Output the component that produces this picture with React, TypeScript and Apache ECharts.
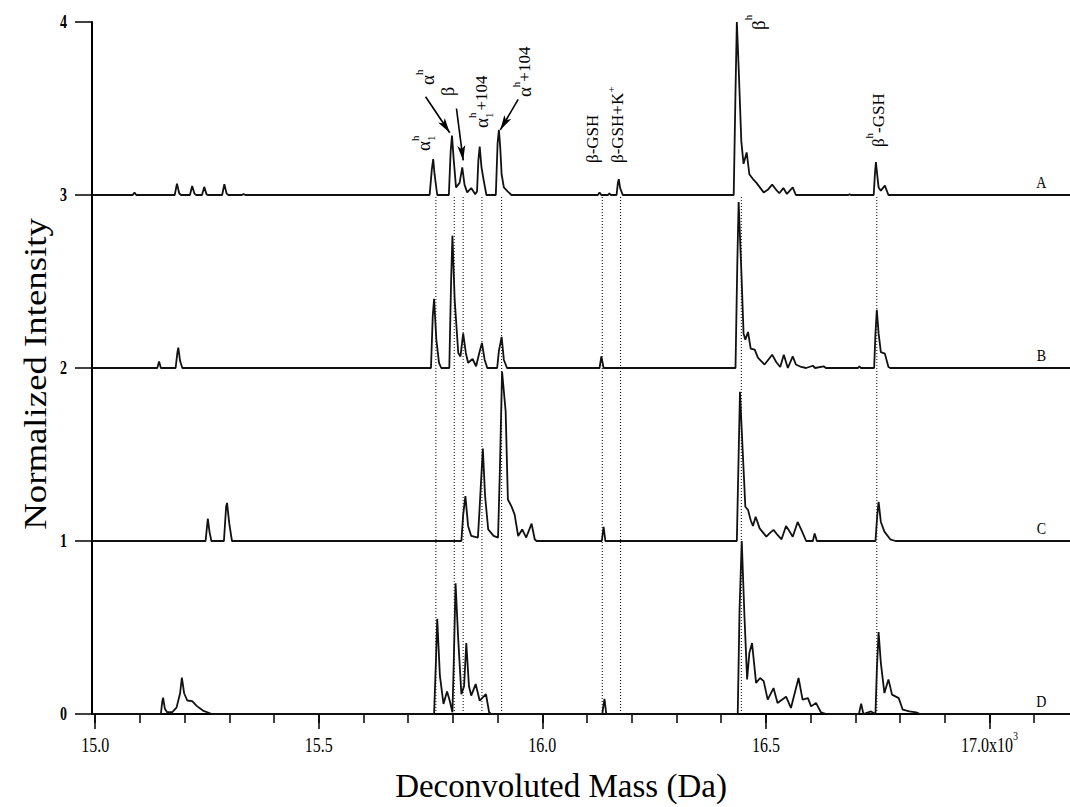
import React, { useEffect, useRef } from 'react';
import * as echarts from 'echarts';

const SERIF = "'Liberation Serif', 'Times New Roman', serif";

// Deconvoluted mass (Da) vs. normalized intensity; each spectrum relative to its own baseline.
const spectrumA: [number, number][] = [
  [14993, 0], [15084, 0], [15088, 0.015], [15092, 0],
  [15178, 0], [15183, 0.066], [15188, 0.01], [15192, 0],
  [15212, 0], [15217, 0.052], [15222, 0.008], [15226, 0],
  [15239, 0], [15244, 0.047], [15249, 0.005], [15252, 0],
  [15284, 0], [15289, 0.062], [15294, 0.008], [15298, 0],
  [15328, 0], [15332, 0.006], [15336, 0],
  [15748, 0], [15753, 0.15], [15756, 0.208], [15759, 0.12], [15765, 0],
  [15791, 0], [15795, 0.25], [15798, 0.343], [15802, 0.2], [15807, 0.044],
  [15815, 0.07], [15821, 0.16], [15826, 0.06], [15832, 0.015], [15841, 0.04], [15850, 0.005],
  [15854, 0.02], [15857, 0.2], [15860, 0.28], [15864, 0.16], [15869, 0.083], [15875, 0],
  [15896, 0], [15900, 0.3], [15903, 0.376], [15906, 0.27], [15909, 0.12], [15914, 0.044], [15923, 0.02], [15931, 0],
  [16124, 0], [16128, 0.015], [16132, 0],
  [16147, 0], [16150, 0.01], [16153, 0],
  [16166, 0], [16169, 0.07], [16171, 0.092], [16174, 0.04], [16180, 0],
  [16428, 0], [16432, 0.6], [16435, 1.0], [16439, 0.74], [16445, 0.31], [16450, 0.18], [16457, 0.246],
  [16463, 0.12], [16471, 0.092], [16478, 0.073], [16495, 0.015], [16504, 0.03], [16514, 0.06], [16523, 0.03],
  [16530, 0.01], [16539, 0.04], [16547, 0.006], [16560, 0.044], [16567, 0],
  [16684, 0], [16687, 0.005], [16690, 0],
  [16741, 0], [16744, 0.13], [16746, 0.19], [16750, 0.09], [16752, 0.044], [16757, 0.025], [16766, 0.054], [16774, 0],
  [17180, 0],
];

const spectrumB: [number, number][] = [
  [14993, 0], [15139, 0], [15143, 0.037], [15147, 0],
  [15180, 0], [15184, 0.09], [15186, 0.118], [15190, 0.04], [15195, 0],
  [15751, 0], [15755, 0.3], [15758, 0.4], [15763, 0.164], [15769, 0.03], [15774, 0],
  [15792, 0], [15796, 0.5], [15799, 0.765], [15804, 0.395], [15812, 0.087], [15817, 0.067], [15823, 0.2],
  [15829, 0.087], [15834, 0.03], [15844, 0.052], [15852, 0.01], [15859, 0.087], [15865, 0.145], [15871, 0.048], [15877, 0],
  [15899, 0], [15903, 0.1], [15909, 0.18], [15914, 0.048], [15921, 0],
  [16128, 0], [16132, 0.067], [16137, 0],
  [16432, 0], [16436, 0.6], [16439, 0.96], [16445, 0.565], [16450, 0.2], [16454, 0.164], [16460, 0.208],
  [16466, 0.112], [16475, 0.106], [16482, 0.06], [16497, 0.02], [16514, 0.077], [16523, 0.035], [16532, 0.006],
  [16540, 0.077], [16549, 0], [16560, 0.067], [16567, 0.02], [16579, 0.006], [16590, 0], [16605, 0.013], [16610, 0],
  [16629, 0.01], [16634, 0],
  [16706, 0], [16709, 0.01], [16712, 0],
  [16742, 0], [16745, 0.2], [16748, 0.337], [16752, 0.2], [16757, 0.092], [16766, 0.083], [16774, 0.006], [16778, 0],
  [17180, 0],
];

const spectrumC: [number, number][] = [
  [14993, 0], [15247, 0], [15252, 0.13], [15256, 0.05], [15260, 0],
  [15288, 0], [15293, 0.2], [15295, 0.22], [15300, 0.1], [15306, 0],
  [15819, 0], [15823, 0.15], [15828, 0.26], [15834, 0.087], [15841, 0.029], [15856, 0.02], [15860, 0.2],
  [15867, 0.534], [15872, 0.26], [15879, 0.067], [15891, 0.03], [15901, 0.02], [15905, 0.4], [15910, 0.98],
  [15918, 0.75], [15923, 0.24], [15931, 0.2], [15938, 0.154], [15946, 0.029], [15955, 0.067], [15964, 0.02],
  [15976, 0.1], [15983, 0.01], [15987, 0],
  [16133, 0], [16137, 0.081], [16141, 0],
  [16435, 0], [16439, 0.5], [16442, 0.863], [16448, 0.526], [16454, 0.198], [16460, 0.18], [16466, 0.12],
  [16471, 0.087], [16477, 0.14], [16486, 0.073], [16501, 0.025], [16508, 0.044], [16517, 0.064], [16526, 0.035],
  [16535, 0.01], [16545, 0.087], [16551, 0.064], [16560, 0.025], [16571, 0.11], [16581, 0.054], [16590, 0],
  [16605, 0], [16609, 0.044], [16614, 0],
  [16745, 0], [16749, 0.15], [16752, 0.227], [16757, 0.11], [16765, 0.054], [16778, 0.01], [16790, 0],
  [17180, 0],
];

const spectrumD: [number, number][] = [
  [14993, 0], [15147, 0], [15150, 0.07], [15152, 0.095], [15156, 0.03], [15161, 0.01], [15172, 0.01],
  [15182, 0.037], [15190, 0.12], [15194, 0.21], [15199, 0.12], [15206, 0.078], [15217, 0.074], [15227, 0.047],
  [15241, 0.02], [15261, 0],
  [15758, 0], [15762, 0.3], [15765, 0.55], [15771, 0.22], [15779, 0.058], [15787, 0.13], [15793, 0.077],
  [15799, 0.01], [15802, 0.3], [15806, 0.755], [15812, 0.43], [15819, 0.115], [15825, 0.16], [15830, 0.41],
  [15836, 0.16], [15841, 0.106], [15851, 0.173], [15860, 0.077], [15874, 0.115], [15881, 0.01], [15885, 0],
  [16134, 0], [16139, 0.087], [16143, 0],
  [16437, 0], [16441, 0.6], [16446, 1.0], [16452, 0.565], [16458, 0.2], [16463, 0.353], [16469, 0.41],
  [16478, 0.18], [16487, 0.208], [16495, 0.19], [16504, 0.083], [16517, 0.15], [16526, 0.064], [16545, 0.1],
  [16556, 0.035], [16573, 0.208], [16582, 0.083], [16594, 0.092], [16601, 0.044], [16612, 0.064], [16623, 0.01],
  [16635, 0],
  [16708, 0], [16713, 0.06], [16718, 0], [16735, 0.015], [16745, 0],
  [16748, 0.25], [16752, 0.474], [16757, 0.295], [16765, 0.121], [16774, 0.2], [16782, 0.112], [16797, 0.092],
  [16806, 0.025], [16821, 0.015], [16836, 0.01], [16845, 0],
  [17180, 0],
];

const spectra = [spectrumA, spectrumB, spectrumC, spectrumD];
const spectrumNames = ['A', 'B', 'C', 'D'];
const spectrumOffsets = [3, 2, 1, 0];

// Assigned species: dotted guides drawn through all four spectra
const guideMasses = [15762, 15803, 15823, 15865, 15909, 16134, 16175, 16445, 16748];

// Arrows from labels to peaks: [from, to] in (mass, intensity)
const arrowSegments: [[number, number], [number, number]][] = [
  [[15739, 3.568], [15793, 3.36]],
  [[15808, 3.5], [15823, 3.2]],
  [[15946, 3.553], [15906, 3.376]],
];

const majorTickValues = [15000, 15500, 16000, 16500, 17000];
const majorTickLabels = ['15.0', '15.5', '16.0', '16.5', '17.0x10'];
const minorTickValues = [
  15000, 15100, 15200, 15300, 15400, 15500, 15600, 15700, 15800, 15900, 16000,
  16100, 16200, 16300, 16400, 16500, 16600, 16700, 16800, 16900, 17000, 17100,
];
const yTickValues = [0, 1, 2, 3, 4];
const yTickLabels = ['0', '1', '2', '3', '4'];

type Part = { t: string; size: number; rise: number; stack?: boolean; gap?: number };
type PeakLabel = { at: [number, number]; parts: Part[] };

// Vertical peak labels; "at" is where the text starts (baseline, lower end)
const peakLabels: PeakLabel[] = [
  { at: [15746, 3.254], parts: [{ t: 'α', size: 19, rise: 0 }, { t: '1', size: 11, rise: -5, stack: true }, { t: 'h', size: 11, rise: 11 }] },
  { at: [15755, 3.636], parts: [{ t: 'α', size: 19, rise: 0 }, { t: 'h', size: 11, rise: 11 }] },
  { at: [15800, 3.572], parts: [{ t: 'β', size: 18, rise: 0 }] },
  { at: [15876, 3.387], parts: [{ t: 'α', size: 19, rise: 0 }, { t: '1', size: 11, rise: -5, stack: true }, { t: 'h', size: 11, rise: 12 }, { t: '+104', size: 17, rise: 0, gap: 2 }] },
  { at: [15972, 3.566], parts: [{ t: 'α', size: 19, rise: 0 }, { t: 'h', size: 11, rise: 11 }, { t: '+104', size: 17, rise: 0 }] },
  { at: [16124, 3.185], parts: [{ t: 'β-GSH', size: 17, rise: 0 }] },
  { at: [16180, 3.185], parts: [{ t: 'β-GSH+K', size: 17, rise: 0 }, { t: '+', size: 11, rise: 9 }] },
  { at: [16495, 3.954], parts: [{ t: 'β', size: 19, rise: 0 }, { t: 'h', size: 11, rise: 12 }] },
  { at: [16763, 3.277], parts: [{ t: 'β', size: 17, rise: 0 }, { t: 'h', size: 11, rise: 11 }, { t: '-GSH', size: 17, rise: 0 }] },
];

// The lettering of this figure is drawn tall and narrow
const TICK_STRETCH = 1.35;
const X_TITLE = 'Deconvoluted Mass (Da)';
const Y_TITLE = 'Normalized Intensity';
const Y_TITLE_LENGTH = 312;

let measureCtx: CanvasRenderingContext2D | null = null;
function textWidth(t: string, size: number, weight = 'normal'): number {
  if (!measureCtx) measureCtx = document.createElement('canvas').getContext('2d');
  if (!measureCtx) return t.length * size * 0.5;
  measureCtx.font = `${weight} ${size}px ${SERIF}`;
  return measureCtx.measureText(t).width;
}

function txt(text: string, x: number, y: number, size: number, align: string, vAlign: string, extra: any = {}, weight = 'normal') {
  return {
    type: 'text',
    x,
    y,
    silent: true,
    ...extra,
    style: {
      text,
      font: `${weight} ${size}px ${SERIF}`,
      fill: '#000',
      textAlign: align,
      textVerticalAlign: vAlign,
      align,
      verticalAlign: vAlign,
    },
  };
}

function buildLabelGroup(chart: echarts.ECharts, label: PeakLabel) {
  const [px, py] = chart.convertToPixel({ xAxisIndex: 0, yAxisIndex: 0 }, label.at) as number[];
  const children: any[] = [];
  let adv = 0;
  let pending = 0;
  label.parts.forEach((p) => {
    const w = textWidth(p.t, p.size);
    const x = adv + (p.gap || 0);
    children.push(txt(p.t, x, -p.rise + 0.21 * p.size, p.size, 'left', 'bottom'));
    if (p.stack) {
      pending = Math.max(pending, w);
    } else {
      adv = x + Math.max(w, pending);
      pending = 0;
    }
  });
  return { type: 'group', x: px, y: py, rotation: Math.PI / 2, children };
}

export default function App() {
  const ref = useRef<HTMLDivElement>(null);

  useEffect(() => {
    document.body.style.margin = '0';
    if (!ref.current) return;
    const chart = echarts.init(ref.current, undefined, { renderer: 'svg' });

    const spectrumSeries = spectra.map((s, i) => ({
      name: spectrumNames[i],
      type: 'line',
      xAxisIndex: 0,
      yAxisIndex: 0,
      data: s.map(([m, v]) => [m, v + spectrumOffsets[i]]),
      showSymbol: false,
      symbol: 'none',
      silent: true,
      z: 3,
      lineStyle: { color: '#111', width: 1.8 },
    }));

    const guideSeries = guideMasses.map((m) => ({
      type: 'line',
      xAxisIndex: 0,
      yAxisIndex: 0,
      data: [[m, 0], [m, 3]],
      showSymbol: false,
      symbol: 'none',
      silent: true,
      z: 2,
      lineStyle: { color: '#000', width: 1, type: [1, 2] },
    }));

    const arrowSeries = {
      type: 'line',
      xAxisIndex: 0,
      yAxisIndex: 0,
      data: [],
      silent: true,
      markLine: {
        silent: true,
        animation: false,
        symbol: ['none', 'arrow'],
        lineStyle: { color: '#000', width: 1.6, type: 'solid' },
        label: { show: false },
        emphasis: { disabled: true },
        data: arrowSegments.map(([from, to]) => [
          { coord: from, symbol: 'none' },
          { coord: to, symbol: 'arrow', symbolSize: [6, 15] },
        ]),
      },
    };

    const baseAxis = {
      type: 'value',
      min: 14993,
      max: 17180,
      position: 'bottom',
      splitLine: { show: false },
      axisLabel: { show: false },
    };

    chart.setOption({
      animation: false,
      grid: { left: 92, right: 0, top: 22, bottom: 93 },
      xAxis: [
        {
          ...baseAxis,
          axisLine: { show: true, lineStyle: { color: '#000', width: 2 } },
          axisTick: { show: true, inside: false, length: 15, customValues: majorTickValues, lineStyle: { color: '#000', width: 1.5 } },
        },
        {
          ...baseAxis,
          axisLine: { show: false },
          axisTick: { show: true, inside: false, length: 9, customValues: minorTickValues, lineStyle: { color: '#000', width: 1.5 } },
        },
      ],
      yAxis: {
        type: 'value',
        min: 0,
        max: 4,
        interval: 1,
        splitLine: { show: false },
        axisLine: { show: true, lineStyle: { color: '#000', width: 2 } },
        axisTick: { show: true, inside: false, length: 17, lineStyle: { color: '#000', width: 1.5 } },
        axisLabel: { show: false },
      },
      series: [...guideSeries, ...spectrumSeries, arrowSeries],
    });

    const toPx = (m: number, v: number) =>
      chart.convertToPixel({ xAxisIndex: 0, yAxisIndex: 0 }, [m, v]) as number[];

    // x tick labels (the last one carries the ×10³ exponent)
    const xLabelElements = majorTickValues.map((v, i) => {
      const [px] = toPx(v, 0);
      const text = majorTickLabels[i];
      if (i === majorTickValues.length - 1) {
        const wBase = textWidth(text, 16);
        const wExp = textWidth('3', 10);
        const start = -(wBase + wExp) / 2;
        return {
          type: 'group',
          x: px,
          y: 745,
          scaleY: TICK_STRETCH,
          children: [
            txt(text, start, 0, 16, 'left', 'middle'),
            txt('3', start + wBase, -7, 10, 'left', 'middle'),
          ],
        };
      }
      return txt(text, px, 745, 16, 'center', 'middle', { scaleY: TICK_STRETCH });
    });

    const yLabelElements = yTickValues.map((v, i) => {
      const [, py] = toPx(14993, v);
      return txt(yTickLabels[i], 67, py, 14, 'right', 'middle', { scaleY: TICK_STRETCH }, 'bold');
    });

    const letterElements = spectrumNames.map((n, i) => {
      const [px, py] = toPx(17116, spectrumOffsets[i]);
      return txt(n, px, py - 13, 14, 'center', 'middle', { scaleY: 1.25 });
    });

    const yTitleStretch = Y_TITLE_LENGTH / textWidth(Y_TITLE, 31);
    const titleElements = [
      txt(X_TITLE, 561, 786, 33, 'center', 'middle'),
      txt(Y_TITLE, 36, 374, 31, 'center', 'middle', { rotation: Math.PI / 2, scaleX: yTitleStretch }),
    ];

    chart.setOption({
      graphic: [
        ...peakLabels.map((l) => buildLabelGroup(chart, l)),
        ...xLabelElements,
        ...yLabelElements,
        ...letterElements,
        ...titleElements,
      ],
    });

    return () => chart.dispose();
  }, []);

  return <div ref={ref} style={{ width: 1070, height: 807 }} />;
}
